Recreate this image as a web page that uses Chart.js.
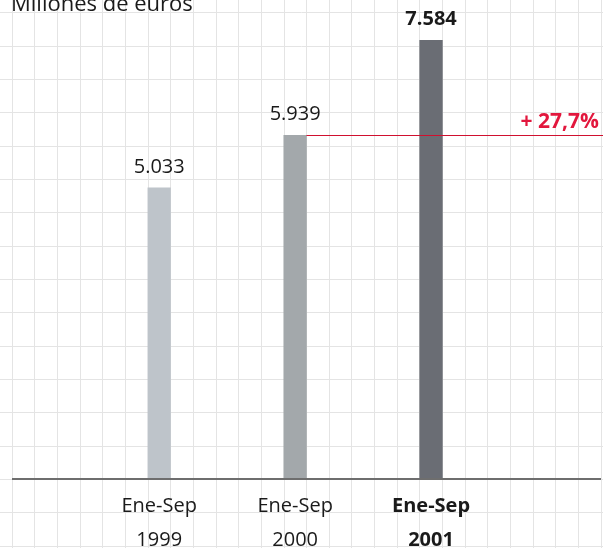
<!DOCTYPE html>
<html>
<head>
<meta charset="utf-8">
<script src="https://cdn.jsdelivr.net/npm/chart.js@4"></script>
<style>
  html, body { margin: 0; padding: 0; background: #ffffff; }
  #wrap { width: 603px; height: 548px; }
</style>
</head>
<body>
<div id="wrap"><canvas id="chartVentas" width="603" height="548"></canvas></div>
<script>
// ==============================================
// Datos
// ==============================================
const titulo = "Millones de euros";
const periodos = [["Ene-Sep", "1999"], ["Ene-Sep", "2000"], ["Ene-Sep", "2001"]];
const ventas = [5033, 5939, 7584];
const etiquetasValor = ["5.033", "5.939", "7.584"];
const variacion = "+ 27,7%";

const FUENTE = "'Open Sans', 'Noto Sans', sans-serif";
const coloresBarra = ["#bec4ca", "#a3a8ab", "#6a6d74"];

// ==============================================
// Cuadricula de fondo, eje y textos
// ==============================================
const fondoPlugin = {
    id: "fondo",
    beforeDraw(chart) {
        const ctx = chart.ctx;
        ctx.save();
        ctx.fillStyle = "#ffffff";
        ctx.fillRect(0, 0, chart.width, chart.height);
        ctx.strokeStyle = "#e4e4e4";
        ctx.lineWidth = 1;
        ctx.beginPath();
        for (let x = 11.7; x < chart.width; x += 22.65) {
            const px = Math.round(x) + 0.5;
            ctx.moveTo(px, 0);
            ctx.lineTo(px, chart.height);
        }
        for (let y = 12.33; y < chart.height; y += 33.33) {
            const py = Math.round(y) + 0.5;
            ctx.moveTo(0, py);
            ctx.lineTo(chart.width, py);
        }
        ctx.stroke();
        ctx.restore();
    },
    afterDatasetsDraw(chart) {
        const ctx = chart.ctx;
        const barras = chart.getDatasetMeta(0).data;
        const y0 = chart.scales.y.getPixelForValue(0);
        ctx.save();

        // eje horizontal
        ctx.strokeStyle = "#6e6e6e";
        ctx.lineWidth = 2;
        ctx.beginPath();
        ctx.moveTo(12, y0);
        ctx.lineTo(601, y0);
        ctx.stroke();

        // linea de referencia roja
        const b2 = barras[1];
        const yRef = Math.round(b2.y) + 0.5;
        ctx.strokeStyle = "#d0102f";
        ctx.lineWidth = 1;
        ctx.beginPath();
        ctx.moveTo(b2.x + b2.width / 2, yRef);
        ctx.lineTo(chart.width, yRef);
        ctx.stroke();

        ctx.fillStyle = "#e2173d";
        ctx.font = "bold 21px " + FUENTE;
        ctx.textAlign = "right";
        ctx.textBaseline = "alphabetic";
        ctx.fillText(variacion, 599, yRef - 8);

        // valores sobre las barras
        ctx.fillStyle = "#1a1a1a";
        ctx.textAlign = "center";
        barras.forEach((b, i) => {
            ctx.font = (i === 2 ? "bold " : "") + "20px " + FUENTE;
            ctx.fillText(etiquetasValor[i], b.x, b.y - 15);
        });

        // titulo
        ctx.textAlign = "left";
        ctx.font = "22px " + FUENTE;
        ctx.fillText(titulo, 11, 11);
        ctx.restore();
    }
};

// ==============================================
// Grafico
// ==============================================
new Chart(document.getElementById("chartVentas"), {
    type: "bar",
    data: {
        labels: periodos,
        datasets: [{
            data: ventas,
            backgroundColor: coloresBarra,
            barThickness: 22.65,
            borderWidth: 0
        }]
    },
    options: {
        responsive: false,
        animation: false,
        layout: { padding: { left: 91.25, right: 104, top: 0, bottom: 0 } },
        plugins: {
            legend: { display: false },
            tooltip: { enabled: false }
        },
        scales: {
            x: {
                grid: { display: false, drawTicks: false },
                border: { display: false },
                ticks: {
                    padding: 10,
                    color: "#1a1a1a",
                    font: (c) => ({
                        family: FUENTE,
                        size: 20,
                        weight: c.index === 2 ? "bold" : "normal",
                        lineHeight: 1.7
                    })
                },
                afterFit(scale) { scale.height = 69; }
            },
            y: {
                display: false,
                min: 0,
                max: 8280
            }
        }
    },
    plugins: [fondoPlugin]
});
</script>
</body>
</html>
